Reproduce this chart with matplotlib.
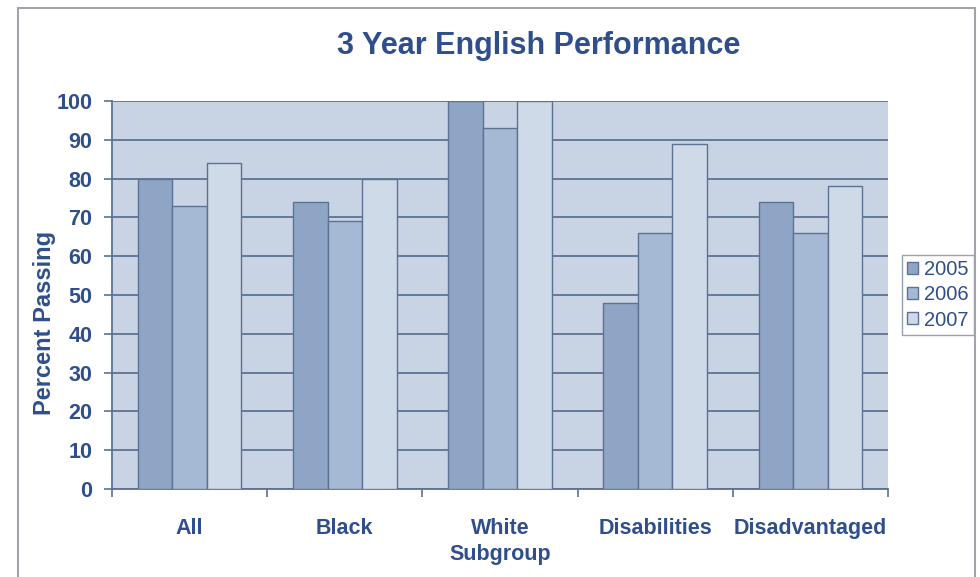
import numpy as np
import matplotlib
matplotlib.use('Agg')
import matplotlib.pyplot as plt
from matplotlib.patches import Rectangle

plt.rcParams['font.family'] = ['Liberation Sans', 'DejaVu Sans']

categories = ['All', 'Black', 'White\nSubgroup', 'Disabilities', 'Disadvantaged']
years = ['2005', '2006', '2007']
vals_2005 = [80, 74, 100, 48, 74]
vals_2006 = [73, 69, 93, 66, 66]
vals_2007 = [84, 80, 100, 89, 78]

text_color = '#2f4f8c'
edge_color = '#5d7293'
bar_colors = ['#8fa5c5', '#a6b9d4', '#cfdae8']

fig = plt.figure(figsize=(9.8, 5.77), dpi=100)
ax = fig.add_axes([112 / 980, 1 - 489 / 577, 776 / 980, 388 / 577])
ax.set_facecolor('#c8d4e4')

x = np.arange(len(categories))
w = 0.667 / 3
for i, (vals, col, lab) in enumerate(zip([vals_2005, vals_2006, vals_2007], bar_colors, years)):
    ax.bar(x + (i - 1) * w, vals, width=w, color=col, edgecolor=edge_color,
           linewidth=1.0, label=lab, zorder=3)

ax.set_xlim(-0.5, len(categories) - 0.5)
ax.set_ylim(0, 100)
ax.set_yticks(range(0, 101, 10))
ax.yaxis.grid(True, color=edge_color, linewidth=1.3, zorder=0)
ax.set_axisbelow(True)

# category boundaries get the tick marks, names sit in between
ax.set_xticks(np.arange(-0.5, len(categories), 1.0))
ax.set_xticklabels([])
ax.set_xticks(x, minor=True)
ax.set_xticklabels(categories, minor=True, fontsize=15.5, fontweight='bold',
                   color=text_color, linespacing=1.3)
ax.tick_params(axis='x', which='minor', length=0, pad=21)
ax.tick_params(axis='x', which='major', length=6, color=edge_color, width=1.2)
ax.tick_params(axis='y', length=6, color=edge_color, width=1.2, labelsize=15.5,
               labelcolor=text_color, pad=8)
for t in ax.get_yticklabels():
    t.set_fontweight('bold')

for s in ['top', 'right']:
    ax.spines[s].set_visible(False)
for s in ['left', 'bottom']:
    ax.spines[s].set_color(edge_color)
    ax.spines[s].set_linewidth(1.3)

ax.set_ylabel('Percent Passing', fontsize=17, fontweight='bold', color=text_color)
ax.yaxis.set_label_coords((56 - 112) / 776, (489 - 323) / 388)

fig.text(539 / 980, 1 - 46 / 577, '3 Year English Performance', ha='center', va='center',
         fontsize=22, fontweight='bold', color=text_color)

leg = ax.legend(loc='center left', bbox_to_anchor=(902 / 980, 1 - 295 / 577),
                bbox_transform=fig.transFigure, frameon=True, fancybox=False,
                fontsize=14.5, handlelength=0.55, handleheight=0.55, handletextpad=0.3,
                borderpad=0.25, labelspacing=0.3, borderaxespad=0)
leg.get_frame().set_edgecolor('#7b8aa3')
leg.get_frame().set_linewidth(1.0)
for t in leg.get_texts():
    t.set_color(text_color)

fig.patches.append(Rectangle((18 / 980, -0.05), (975 - 18) / 980, (1 - 8 / 577) + 0.05,
                             transform=fig.transFigure, fill=False,
                             edgecolor='#a0a4aa', linewidth=1.5))

fig.savefig('out.png', dpi=100)
